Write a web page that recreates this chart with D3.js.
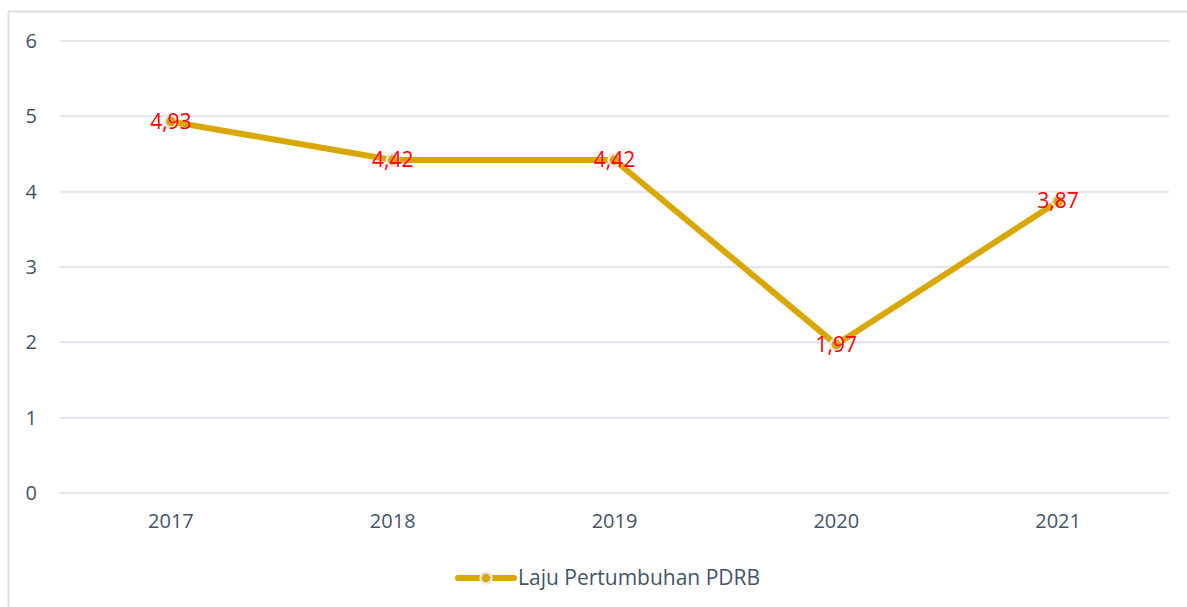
<!DOCTYPE html>
<html>
<head>
<meta charset="utf-8">
<title>Laju Pertumbuhan PDRB</title>
<script src="https://cdn.jsdelivr.net/npm/d3@7"></script>
<style>
body { margin: 0; background: #ffffff; }
svg { display: block; font-family: "Open Sans", "Noto Sans", sans-serif; }
</style>
</head>
<body>
<div id="chart"></div>
<script>
var years = ["2017", "2018", "2019", "2020", "2021"];
var growth = [4.93, 4.42, 4.42, 1.97, 3.87];
var yTicks = [0, 1, 2, 3, 4, 5, 6];
var seriesName = "Laju Pertumbuhan PDRB";

var W = 1187, H = 607;
var margin = {top: 41, right: 18, bottom: 114, left: 60};
var width = W - margin.left - margin.right,
    height = H - margin.top - margin.bottom;

var lineColor = "#daa700",
    textColor = "#44546a",
    gridColor = "#e1e5ec",
    fontFam = '"Open Sans", "Noto Sans", sans-serif';

var svg = d3.select("#chart").append("svg")
    .attr("width", W)
    .attr("height", H);

// outer frame (left + top edge visible)
svg.append("path")
    .attr("d", "M8.5," + H + "V11.5H" + W)
    .attr("fill", "none")
    .attr("stroke", "#dadfe6")
    .attr("stroke-width", 2);

var g = svg.append("g")
    .attr("transform", "translate(" + margin.left + "," + margin.top + ")");

var x = d3.scaleBand().domain(years).range([0, width]).padding(0);
var y = d3.scaleLinear().domain([0, 6]).range([height, 0]);

// grid
g.selectAll(".grid")
    .data(yTicks)
  .enter().append("line")
    .attr("class", "grid")
    .attr("x1", 0).attr("x2", width)
    .attr("y1", d => y(d)).attr("y2", d => y(d))
    .attr("stroke", gridColor)
    .attr("stroke-width", 2);

// y axis labels
var yAxis = d3.axisLeft(y).tickValues(yTicks).tickFormat(d3.format("d"))
    .tickSize(0).tickPadding(23);
g.append("g").call(yAxis)
    .attr("font-family", fontFam)
    .attr("font-size", 20)
    .call(s => s.select(".domain").remove())
    .selectAll("text")
    .attr("fill", textColor);

// x axis labels
var xAxis = d3.axisBottom(x).tickSize(0).tickPadding(21);
g.append("g")
    .attr("transform", "translate(0," + height + ")")
    .call(xAxis)
    .attr("font-family", fontFam)
    .attr("font-size", 20)
    .call(s => s.select(".domain").remove())
    .selectAll("text")
    .attr("fill", textColor);

var cx = d => x(d) + x.bandwidth() / 2;

var line = d3.line()
    .x((d, i) => cx(years[i]))
    .y(d => y(d));

g.append("path")
    .datum(growth)
    .attr("d", line)
    .attr("fill", "none")
    .attr("stroke", lineColor)
    .attr("stroke-width", 6)
    .attr("stroke-linejoin", "round");

g.selectAll(".dot")
    .data(growth)
  .enter().append("circle")
    .attr("class", "dot")
    .attr("cx", (d, i) => cx(years[i]))
    .attr("cy", d => y(d))
    .attr("r", 6)
    .attr("fill", lineColor)
    .attr("stroke", "#e6e6e6")
    .attr("stroke-width", 2.5);

g.selectAll(".lbl")
    .data(growth)
  .enter().append("text")
    .attr("class", "lbl")
    .attr("x", (d, i) => cx(years[i]))
    .attr("y", d => y(d) + 7)
    .attr("text-anchor", "middle")
    .attr("fill", "#ff0000")
    .style("font-size", "21px")
    .text(d => d.toFixed(2).replace(".", ","));

// legend
var leg = svg.append("g").attr("transform", "translate(458,578)");
leg.append("line")
    .attr("x1", 0).attr("x2", 56)
    .attr("stroke", lineColor)
    .attr("stroke-width", 6)
    .attr("stroke-linecap", "round");
leg.append("circle")
    .attr("cx", 28).attr("r", 5.5)
    .attr("fill", lineColor)
    .attr("stroke", "#e6e6e6")
    .attr("stroke-width", 2.5);
leg.append("text")
    .attr("x", 60).attr("y", 7)
    .attr("fill", textColor)
    .style("font-size", "21px")
    .text(seriesName);
</script>
</body>
</html>
